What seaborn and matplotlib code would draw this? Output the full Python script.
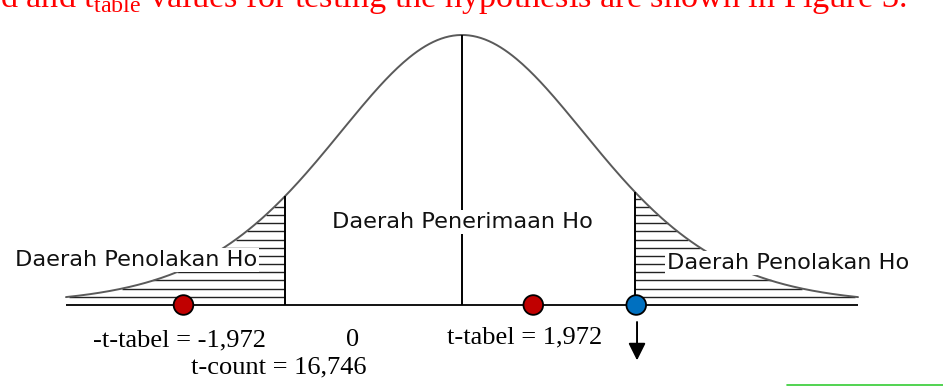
import math
import numpy as np
import matplotlib
matplotlib.use('Agg')
import matplotlib.pyplot as plt
import seaborn as sns

sns.set_style('white')
plt.rcParams['font.family'] = ['DejaVu Sans']
plt.rcParams['mathtext.fontset'] = 'custom'
plt.rcParams['mathtext.rm'] = 'Liberation Serif'

# --- data (x in t-units as drawn, not to scale) ---
df_t = 10
curve_range = (-3.0, 3.0)
cut_left, cut_right = -1.34, 1.31
dot_x = [-2.11, 0.54, 1.32]
dot_colors = ['#c00000', '#c00000', '#0070c0']
region_labels = ['Daerah Penolakan Ho', 'Daerah Penerimaan Ho', 'Daerah Penolakan Ho']
region_x = [-2.47, 0.0, 2.47]
region_y = [0.167, 0.307, 0.156]
value_labels = ['-t-tabel = -1,972', '0', 't-tabel = 1,972', 't-count = 16,746']
value_x = [-2.14, -0.826, 0.477, -1.386]
value_y = [-0.13, -0.13, -0.122, -0.23]
tcount_arrow_x = 1.326
caption = r'd and t$_{\mathrm{table}}$ values for testing the hypothesis are shown in Figure 3.'


def shape(t):
    # t distribution shape, peak scaled to 1
    return (1 + t ** 2 / df_t) ** (-(df_t + 1) / 2)


fig = plt.figure(figsize=(9.43, 3.92), dpi=100)
ax = fig.add_axes([0, 0, 1, 1])
ax.set_xlim(-3.5, 3.644)
ax.set_ylim(-0.3222, 1.1296)
ax.axis('off')

xs = np.linspace(curve_range[0], curve_range[1], 400)
sns.lineplot(x=xs, y=shape(xs), ax=ax, color='#5a5a5a', linewidth=1.4, zorder=2)

# baseline and vertical lines
ax.hlines(0, curve_range[0], curve_range[1], color='black', linewidth=1.3, zorder=2)
ax.vlines([cut_left, 0, cut_right], 0, [shape(cut_left), 1, shape(cut_right)],
          color='black', linewidth=1.4, zorder=2)

# horizontal hatch in the rejection regions
step = 0.0303
half = xs[xs <= 0]
for cut, side in [(cut_left, -1), (cut_right, 1)]:
    levels = np.arange(step, shape(cut) - step / 2, step)
    for h in levels:
        edge = np.interp(h, shape(half), half)  # left side position
        if h < shape(curve_range[0]):
            edge = curve_range[0]
        if side == -1:
            ax.hlines(h, edge, cut, color='#222222', linewidth=1.0, zorder=1)
        else:
            ax.hlines(h, cut, -edge, color='#222222', linewidth=1.0, zorder=1)

# points on the axis
sns.scatterplot(x=dot_x, y=[0] * len(dot_x), ax=ax, c=dot_colors, s=200,
                edgecolor='black', linewidth=1.3, zorder=4, legend=False)

for lab, x, y in zip(region_labels, region_x, region_y):
    ax.text(x, y, lab, ha='center', va='center', fontsize=16.2, color='#111111',
            bbox=dict(facecolor='white', edgecolor='none', pad=1.5), zorder=3)

for lab, x, y in zip(value_labels, value_x, value_y):
    ax.text(x, y, lab, ha='center', va='center', fontsize=19,
            family='Liberation Serif', color='black')

ax.annotate('', xy=(tcount_arrow_x, -0.205), xytext=(tcount_arrow_x, -0.063),
            arrowprops=dict(arrowstyle='-|>', color='black', lw=1.4,
                            mutation_scale=26, shrinkA=0, shrinkB=0))

fig.text(0.0, 1 - 7 / 392, caption, ha='left', va='baseline', fontsize=24.7,
         family='Liberation Serif', color='#ff0000')

ax.plot([2.46, 3.644], [-0.296, -0.296], color='#33cc33', linewidth=1.2)

plt.savefig('out.png', dpi=100)
